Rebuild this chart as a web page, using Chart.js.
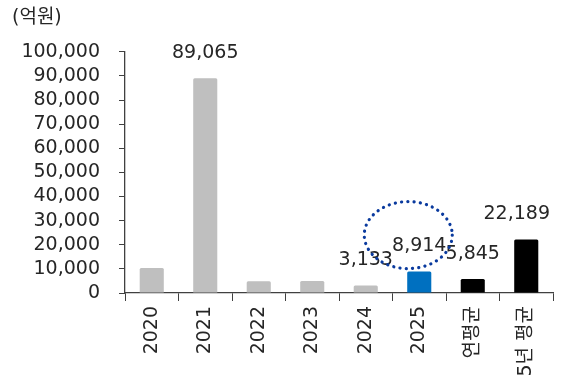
<!DOCTYPE html>
<html lang="ko">
<head>
<meta charset="utf-8">
<script src="https://cdn.jsdelivr.net/npm/chart.js@4.4.1/dist/chart.umd.min.js"></script>
<style>
  html, body { margin: 0; padding: 0; background: #fff; }
  #wrap { width: 561px; height: 385px; }
</style>
</head>
<body>
<div id="wrap"><canvas id="chart"></canvas></div>
<script>
// 연도별 금액 (억원)
const categories = ['2020', '2021', '2022', '2023', '2024', '2025', '연평균', '5년 평균'];
const values = [10400, 89065, 4900, 4933, 3133, 8914, 5845, 22189];
const showValue = [false, true, false, false, true, true, true, true];
const barColors = ['#bfbfbf', '#bfbfbf', '#bfbfbf', '#bfbfbf', '#bfbfbf', '#0070c0', '#000000', '#000000'];
const yTicks = [0, 10000, 20000, 30000, 40000, 50000, 60000, 70000, 80000, 90000, 100000];

const FONT = "'DejaVu Sans', 'Noto Sans CJK KR', sans-serif";
const TEXT = '#262626';
const AXIS = '#404040';

// 막대 위 값 표시 (오른쪽 끝 라벨은 캔버스 안으로 당김)
const valueLabels = {
    id: 'valueLabels',
    afterDatasetsDraw(chart) {
        const { ctx } = chart;
        const meta = chart.getDatasetMeta(0);
        ctx.save();
        ctx.font = `19px ${FONT}`;
        ctx.fillStyle = TEXT;
        ctx.textAlign = 'center';
        ctx.textBaseline = 'middle';
        meta.data.forEach((bar, i) => {
            if (!showValue[i]) return;
            const txt = values[i].toLocaleString('en-US');
            const w = ctx.measureText(txt).width;
            const x = Math.min(bar.x, chart.width - 11 - w / 2);
            ctx.fillText(txt, x, bar.y - 25);
        });
        ctx.restore();
    },
};

// 2025년 값 강조용 점선 타원
const highlight = {
    id: 'highlight',
    afterDraw(chart) {
        const { ctx, scales } = chart;
        const cx = scales.x.getPixelForValue(5) - 11;
        const cy = scales.y.getPixelForValue(24000);
        ctx.save();
        ctx.strokeStyle = '#0a3a9e';
        ctx.lineWidth = 3.2;
        ctx.lineCap = 'round';
        ctx.setLineDash([0.1, 6.2]);
        ctx.beginPath();
        ctx.ellipse(cx, cy, 44, 33.5, 0, 0, Math.PI * 2);
        ctx.stroke();
        ctx.restore();
    },
};

new Chart(document.getElementById('chart'), {
    type: 'bar',
    data: {
        labels: categories,
        datasets: [{
            data: values,
            backgroundColor: barColors,
            borderRadius: 1.5,
            borderSkipped: 'bottom',
            categoryPercentage: 1,
            barPercentage: 0.45,
        }],
    },
    options: {
        responsive: true,
        maintainAspectRatio: false,
        animation: false,
        layout: { padding: { left: 12, right: 8, top: 0, bottom: 0 } },
        plugins: {
            legend: { display: false },
            tooltip: { enabled: false },
            title: {
                display: true,
                text: '(억원)',
                align: 'start',
                color: TEXT,
                font: { family: FONT, size: 19, weight: 'normal' },
                padding: { top: 7, bottom: 22 },
            },
        },
        scales: {
            x: {
                grid: {
                    display: true,
                    drawOnChartArea: false,
                    drawTicks: true,
                    tickLength: 8,
                    color: AXIS,
                },
                border: { display: true, color: AXIS, width: 1.3 },
                ticks: {
                    color: TEXT,
                    font: { family: FONT, size: 19 },
                    minRotation: 90,
                    maxRotation: 90,
                    autoSkip: false,
                    padding: 5,
                },
                afterFit(scale) { scale.height = 92; },
            },
            y: {
                min: 0,
                max: 100000,
                afterBuildTicks(scale) { scale.ticks = yTicks.map(v => ({ value: v })); },
                grid: {
                    display: true,
                    drawOnChartArea: false,
                    drawTicks: true,
                    tickLength: 6,
                    color: AXIS,
                },
                border: { display: true, color: AXIS, width: 1.3 },
                ticks: {
                    color: TEXT,
                    font: { family: FONT, size: 19 },
                    padding: 19,
                    autoSkip: false,
                    callback: v => v.toLocaleString('en-US'),
                },
                afterFit(scale) { scale.width = 113; },
            },
        },
    },
    plugins: [valueLabels, highlight],
});
</script>
</body>
</html>
